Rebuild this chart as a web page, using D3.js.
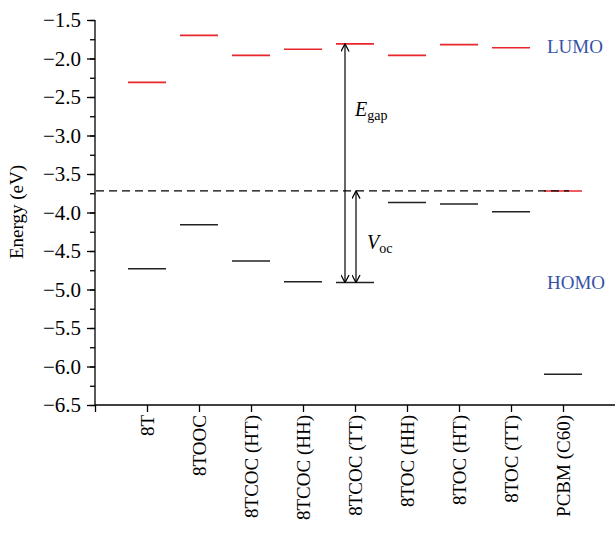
<!DOCTYPE html>
<html>
<head>
<meta charset="utf-8">
<script src="https://cdn.jsdelivr.net/npm/d3@7"></script>
<style>
  body { margin: 0; background: #fff; }
  svg text { font-family: "Liberation Serif", "Times New Roman", serif; }
</style>
</head>
<body>
<svg id="chart" width="615" height="535"></svg>
<script>
// energy levels (eV)
var molecules = ["8T", "8TOOC", "8TCOC (HT)", "8TCOC (HH)", "8TCOC (TT)", "8TOC (HH)", "8TOC (HT)", "8TOC (TT)", "PCBM (C60)"]
var lumo = [-2.31, -1.70, -1.96, -1.88, -1.81, -1.96, -1.82, -1.86, -3.72]
var homo = [-4.73, -4.16, -4.63, -4.90, -4.91, -3.87, -3.89, -3.99, -6.10]
var acceptorLumo = -3.72
var yTicks = [-1.5, -2.0, -2.5, -3.0, -3.5, -4.0, -4.5, -5.0, -5.5, -6.0, -6.5]

var svg = d3.select("#chart")
var serif = "Liberation Serif"

var x = d3.scaleLinear().domain([0, 10]).range([95, 615])
var y = d3.scaleLinear().domain([-6.5, -1.5]).range([405, 20])
var halfW = 19

// minor ticks on y
svg.append("g")
    .attr("transform", "translate(95,0)")
    .call(d3.axisLeft(y).tickValues(d3.range(-6.5, -1.49, 0.25)).tickSize(5).tickFormat(""))
    .call(g => g.select(".domain").remove())
    .call(g => g.selectAll("line").attr("stroke", "#000").attr("stroke-width", 1.3))

// major ticks on y
var yAxis = svg.append("g")
    .attr("transform", "translate(95,0)")
    .call(d3.axisLeft(y).tickValues(yTicks).tickSize(8).tickPadding(6)
        .tickFormat(d => d3.format(".1f")(d).replace("-", "\u2212")))
    .attr("font-size", 21)
    .attr("font-family", serif)
yAxis.select(".domain").attr("stroke-width", 1.3).attr("d", "M0," + y(-6.5) + "V" + y(-1.5))
yAxis.selectAll("line").attr("stroke-width", 1.3)
yAxis.selectAll(".tick text")
    .attr("fill", "#000")
    .attr("font-size", 21)
    .style("font", "21px 'Liberation Serif'")

// x axis with category ticks
var xAxis = svg.append("g")
    .attr("transform", "translate(0,405)")
    .call(d3.axisBottom(x).tickValues(d3.range(0, 10)).tickSize(7).tickPadding(8)
        .tickFormat(i => i == 0 ? "" : molecules[i - 1]))
    .attr("font-size", 19)
    .attr("font-family", serif)
xAxis.select(".domain").attr("stroke-width", 1.3).attr("d", "M95,0H615")
xAxis.selectAll("line").attr("stroke-width", 1.3)
xAxis.selectAll(".tick text")
    .attr("fill", "#000")
    .style("font", "19px 'Liberation Serif'")
    .attr("transform", "rotate(-90)")
    .attr("text-anchor", "end")
    .attr("x", -10).attr("y", 0).attr("dy", "0.35em")

// axis title
svg.append("text")
    .attr("transform", "translate(23,212) rotate(-90)")
    .attr("text-anchor", "middle")
    .style("font-size", "19px").style("font-family", serif)
    .text("Energy (eV)")

// LUMO levels
svg.selectAll(".lumo").data(lumo).enter().append("line")
    .attr("class", "lumo")
    .attr("x1", (d, i) => x(i + 1) - halfW).attr("x2", (d, i) => x(i + 1) + halfW)
    .attr("y1", d => y(d)).attr("y2", d => y(d))
    .attr("stroke", "#e8262b").attr("stroke-width", 1.6)

// HOMO levels
svg.selectAll(".homo").data(homo).enter().append("line")
    .attr("class", "homo")
    .attr("x1", (d, i) => x(i + 1) - halfW).attr("x2", (d, i) => x(i + 1) + halfW)
    .attr("y1", d => y(d)).attr("y2", d => y(d))
    .attr("stroke", "#222").attr("stroke-width", 1.6)

// acceptor LUMO dashed line
svg.append("line")
    .attr("x1", 96).attr("x2", x(9) + 6)
    .attr("y1", y(acceptorLumo)).attr("y2", y(acceptorLumo))
    .attr("stroke", "#000").attr("stroke-width", 1.3)
    .attr("stroke-dasharray", "8,5")

// arrows
var defs = svg.append("defs")
defs.append("marker")
    .attr("id", "head").attr("viewBox", "0 0 10 10")
    .attr("refX", 9.5).attr("refY", 5)
    .attr("markerWidth", 9).attr("markerHeight", 9)
    .attr("markerUnits", "userSpaceOnUse")
    .attr("orient", "auto-start-reverse")
    .append("path").attr("d", "M1,0.5L9.5,5L1,9.5")
    .attr("fill", "none").attr("stroke", "#000").attr("stroke-width", 1.4)

var tt = 5 // 8TCOC (TT)
svg.append("line")
    .attr("x1", x(tt) - 10).attr("x2", x(tt) - 10)
    .attr("y1", y(lumo[tt - 1])).attr("y2", y(homo[tt - 1]))
    .attr("stroke", "#000").attr("stroke-width", 1.2)
    .attr("marker-start", "url(#head)").attr("marker-end", "url(#head)")
svg.append("line")
    .attr("x1", x(tt) + 1).attr("x2", x(tt) + 1)
    .attr("y1", y(acceptorLumo)).attr("y2", y(homo[tt - 1]))
    .attr("stroke", "#000").attr("stroke-width", 1.2)
    .attr("marker-start", "url(#head)").attr("marker-end", "url(#head)")

// annotation labels
var eg = svg.append("text").attr("x", 355).attr("y", 116).style("font-size", "20px")
eg.append("tspan").attr("font-style", "italic").text("E")
eg.append("tspan").style("font-size", "14px").attr("dy", 4).text("gap")

var vo = svg.append("text").attr("x", 367).attr("y", 249).style("font-size", "20px")
vo.append("tspan").attr("font-style", "italic").text("V")
vo.append("tspan").style("font-size", "14px").attr("dy", 4).text("oc")

svg.append("text").attr("x", 547).attr("y", 53).style("font-size", "19px")
    .attr("fill", "#3553a5").text("LUMO")
svg.append("text").attr("x", 547).attr("y", 289).style("font-size", "19px")
    .attr("fill", "#3553a5").text("HOMO")
</script>
</body>
</html>
